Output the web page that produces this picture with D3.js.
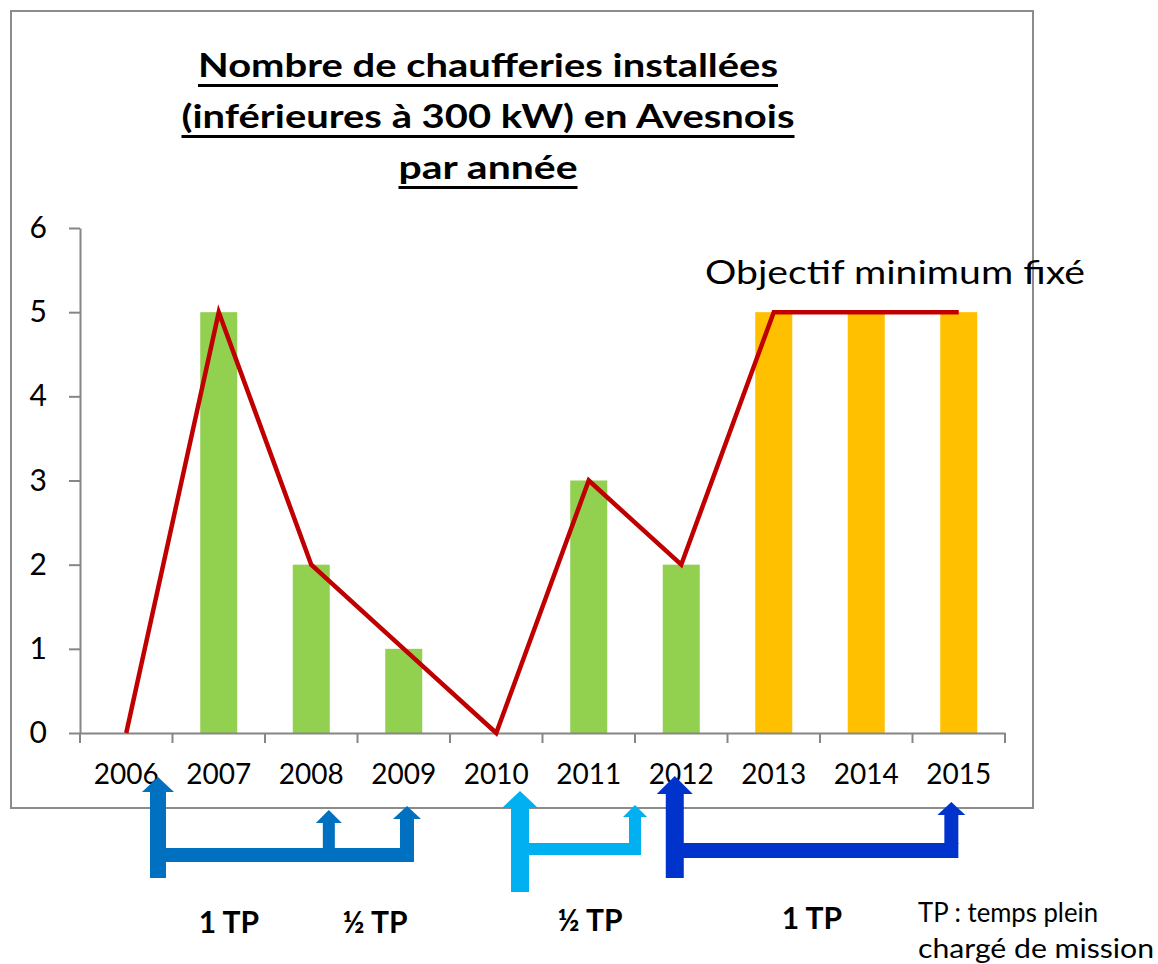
<!DOCTYPE html>
<html lang="fr">
<head>
<meta charset="UTF-8">
<title>Nombre de chaufferies installées</title>
<script src="https://d3js.org/d3.v7.min.js"></script>
<style>
    body { margin: 0; background: #ffffff; }
    svg text { font-family: Lato, "Noto Sans", sans-serif; fill: #000; }
    .title { font-weight: bold; font-size: 33px; text-anchor: middle; }
    .axis text { font-size: 28px; }
    .tp { font-weight: bold; font-size: 30px; text-anchor: middle; }
</style>
</head>
<body>
<svg width="1158" height="964"></svg>
<script>
// chart values
var years = ["2006", "2007", "2008", "2009", "2010", "2011", "2012", "2013", "2014", "2015"];
var installed = [0, 5, 2, 1, 0, 3, 2, null, null, null];   // green bars
var objective = [null, null, null, null, null, null, null, 5, 5, 5];   // orange bars
var trend = [0, 5, 2, 1, 0, 3, 2, 5, 5, 5];   // red line
var yTicks = [0, 1, 2, 3, 4, 5, 6];
var titleLines = ["Nombre de chaufferies installées", "(inférieures à 300 kW) en Avesnois", "par année"];
var tpLabels = ["1 TP", "½ TP", "½ TP", "1 TP"];

var svg = d3.select("svg");

var margin = {left: 80, right: 1005, top: 228, bottom: 733};

var x = d3.scaleBand().domain(years).range([margin.left, margin.right]).paddingInner(0).paddingOuter(0);
var y = d3.scaleLinear().domain([0, 6]).range([margin.bottom, margin.top]);
// continuous year position, used to place the staffing arrows
var xPos = d3.scaleLinear().domain([2005.5, 2015.5]).range([margin.left, margin.right]);

// outer frame
svg.append("rect")
    .attr("x", 11).attr("y", 11).attr("width", 1022).attr("height", 797)
    .attr("fill", "none").attr("stroke", "#8c8c8c").attr("stroke-width", 2);

// title, underlined
var titleY = [77, 128, 179];
var titleW = [580, 613, 179];
titleLines.forEach(function(t, i) {
    svg.append("text").attr("class", "title")
        .attr("x", 488).attr("y", titleY[i])
        .attr("textLength", titleW[i]).attr("lengthAdjust", "spacingAndGlyphs")
        .text(t);
    svg.append("rect")
        .attr("x", 488 - titleW[i] / 2).attr("y", titleY[i] + 7)
        .attr("width", titleW[i]).attr("height", 3).attr("fill", "#000");
});

// bars
var barW = x.bandwidth() * 0.4;
function drawBars(vals, color) {
    svg.append("g").selectAll("rect")
        .data(years.map(function(yr, i) { return {yr: yr, v: vals[i]}; }).filter(function(d) { return d.v; }))
        .join("rect")
        .attr("x", function(d) { return x(d.yr) + (x.bandwidth() - barW) / 2; })
        .attr("y", function(d) { return y(d.v); })
        .attr("width", barW)
        .attr("height", function(d) { return y(0) - y(d.v); })
        .attr("fill", color);
}
drawBars(installed, "#92d050");
drawBars(objective, "#ffc000");

// axes
var yAxis = svg.append("g").attr("class", "axis")
    .attr("transform", "translate(" + margin.left + ",0)")
    .call(d3.axisLeft(y).tickValues(yTicks).tickFormat(d3.format("d")).tickSize(11).tickSizeOuter(0).tickPadding(22));
yAxis.selectAll("line, path").attr("stroke", "#868686").attr("stroke-width", 2);
yAxis.selectAll("text").style("font-size", "30px");

var xAxis = svg.append("g").attr("class", "axis")
    .attr("transform", "translate(0," + margin.bottom + ")")
    .call(d3.axisBottom(x).tickSize(0).tickPadding(31));
xAxis.select("path").attr("stroke", "#868686").attr("stroke-width", 2);
xAxis.selectAll("text").attr("dy", "0.71em");
// ticks between categories
svg.append("g").selectAll("line")
    .data(years.concat(["end"]))
    .join("line")
    .attr("x1", function(d, i) { return margin.left + i * x.bandwidth(); })
    .attr("x2", function(d, i) { return margin.left + i * x.bandwidth(); })
    .attr("y1", margin.bottom).attr("y2", margin.bottom + 10)
    .attr("stroke", "#868686").attr("stroke-width", 2);

// red line
var line = d3.line()
    .x(function(d, i) { return x(years[i]) + x.bandwidth() / 2; })
    .y(function(d) { return y(d); });
svg.append("path").datum(trend)
    .attr("d", line)
    .attr("fill", "none").attr("stroke", "#c00000").attr("stroke-width", 4.5)
    .attr("stroke-linejoin", "miter");

svg.append("text")
    .attr("x", 705).attr("y", 284)
    .style("font-size", "32px")
    .attr("textLength", 380).attr("lengthAdjust", "spacingAndGlyphs")
    .text("Objectif minimum fixé");

// staffing arrows
var arrows = [
    {color: "#0070c0", start: {at: 2006.343, w: 16, bottom: 878, base: 792, tip: 777, hw: 16},
     bar: [848, 862], targets: [{at: 2008.19, w: 12, base: 823, tip: 810, hw: 13}, {at: 2009.035, w: 14, base: 819, tip: 806, hw: 14}]},
    {color: "#00b0f0", start: {at: 2010.257, w: 18, bottom: 892, base: 808, tip: 791, hw: 18},
     bar: [843, 855], targets: [{at: 2011.5, w: 12, base: 817, tip: 805, hw: 12}]},
    {color: "#0033cc", start: {at: 2011.93, w: 18, bottom: 878, base: 794, tip: 776, hw: 18},
     bar: [843, 858], targets: [{at: 2014.92, w: 14, base: 815, tip: 802, hw: 14}]}
];

function arrowHead(g, cx, base, tip, hw, color) {
    g.append("path")
        .attr("d", "M" + (cx - hw) + "," + base + "L" + cx + "," + tip + "L" + (cx + hw) + "," + base + "Z")
        .attr("fill", color);
}

arrows.forEach(function(a) {
    var g = svg.append("g");
    var sx = xPos(a.start.at);
    g.append("rect")
        .attr("x", sx - a.start.w / 2).attr("y", a.start.base)
        .attr("width", a.start.w).attr("height", a.start.bottom - a.start.base)
        .attr("fill", a.color);
    arrowHead(g, sx, a.start.base, a.start.tip, a.start.hw, a.color);
    var last = a.targets[a.targets.length - 1];
    var lx = xPos(last.at) + last.w / 2;
    g.append("rect")
        .attr("x", sx).attr("y", a.bar[0])
        .attr("width", lx - sx).attr("height", a.bar[1] - a.bar[0])
        .attr("fill", a.color);
    a.targets.forEach(function(t) {
        var tx = xPos(t.at);
        g.append("rect")
            .attr("x", tx - t.w / 2).attr("y", t.base)
            .attr("width", t.w).attr("height", a.bar[0] - t.base + 1)
            .attr("fill", a.color);
        arrowHead(g, tx, t.base, t.tip, t.hw, a.color);
    });
});

// TP labels
var tpX = [229, 375, 590, 812];
var tpY = [933, 933, 931, 929];
tpLabels.forEach(function(t, i) {
    svg.append("text").attr("class", "tp").attr("x", tpX[i]).attr("y", tpY[i]).text(t);
});

svg.append("text").attr("x", 918).attr("y", 922).style("font-size", "26px")
    .attr("textLength", 180).attr("lengthAdjust", "spacingAndGlyphs").text("TP : temps plein");
svg.append("text").attr("x", 918).attr("y", 958).style("font-size", "26px")
    .attr("textLength", 236).attr("lengthAdjust", "spacingAndGlyphs").text("chargé de mission");
</script>
</body>
</html>
